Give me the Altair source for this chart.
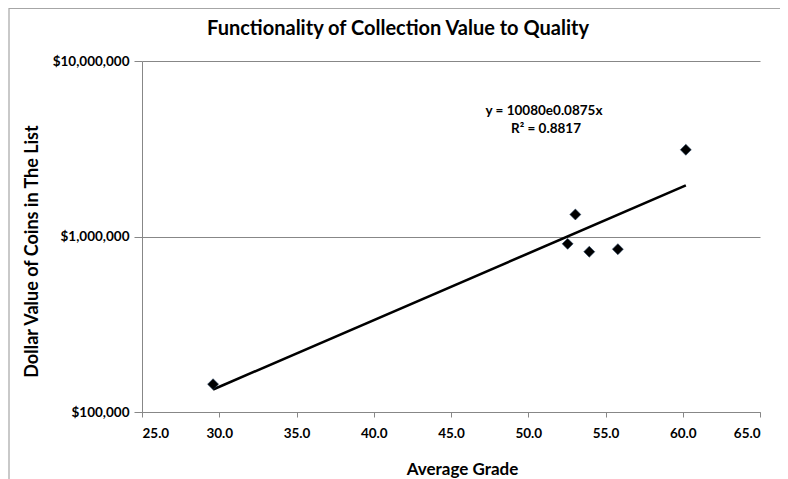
import altair as alt
import pandas as pd
import math

# Data
grades = [29.6, 52.55, 53.05, 53.95, 55.8, 60.2]
values = [144000, 908000, 1335000, 819000, 847000, 3120000]

# Exponential trendline coefficients as printed on the chart
trend_a = 10080
trend_b = 0.0875
trend_labels = ["y = 10080e0.0875x", "R\u00b2 = 0.8817"]

x_ticks = [25, 30, 35, 40, 45, 50, 55, 60, 65]
y_ticks = [100000, 1000000, 10000000]

FONT = "Lato"
GRAY = "#878787"

pts = pd.DataFrame({"grade": grades, "value": values})
trend = pd.DataFrame({"grade": [min(grades), max(grades)]})
trend["value"] = [trend_a * math.exp(trend_b * g) for g in trend["grade"]]

xscale = alt.Scale(domain=[25, 65], nice=False, zero=False)
yscale = alt.Scale(type="log", domain=[100000, 10000000], nice=False)

xenc = alt.X("grade:Q", scale=xscale,
             axis=alt.Axis(values=x_ticks, format=".1f", title="Average Grade",
                           grid=False, tickSize=5, labelPadding=9,
                           titleX=320, titleY=62, titleBaseline="alphabetic",
                           titleFontSize=17))
yenc = alt.Y("value:Q", scale=yscale,
             axis=alt.Axis(values=y_ticks, format="$,.0f",
                           title="Dollar Value of Coins in The List",
                           grid=True, tickSize=8, labelPadding=5,
                           titleX=-110, titleY=190, titleAngle=270,
                           titleAlign="center", titleBaseline="middle",
                           titleFontSize=18))

border = alt.Chart(pd.DataFrame({"d": [0]})).mark_rect(
    filled=False, stroke="#a6a6a6", strokeWidth=1.2
).encode(x=alt.value(-133), x2=alt.value(644), y=alt.value(-52.5), y2=alt.value(430))

line = alt.Chart(trend).mark_line(color="black", strokeWidth=2.6).encode(
    x=xenc, y=yenc)

points = alt.Chart(pts).mark_point(
    shape="diamond", filled=True, size=120, color="black", opacity=1,
    stroke="#1f3a5a", strokeWidth=0.6
).encode(x="grade:Q", y="value:Q")

lab_df = pd.DataFrame({"t": trend_labels, "row": [0, 1]})
labels1 = alt.Chart(lab_df.iloc[[0]]).mark_text(
    font=FONT, fontSize=13.5, fontWeight="bold", align="center", baseline="alphabetic"
).encode(text="t:N", x=alt.value(402), y=alt.value(54))
labels2 = alt.Chart(lab_df.iloc[[1]]).mark_text(
    font=FONT, fontSize=13.5, fontWeight="bold", align="center", baseline="alphabetic"
).encode(text="t:N", x=alt.value(404), y=alt.value(72))

chart = alt.layer(border, line, points, labels1, labels2).properties(
    width=618, height=351,
    title=alt.TitleParams("Functionality of Collection Value to Quality",
                          font=FONT, fontSize=20, fontWeight="bold",
                          anchor="middle", frame="group", dx=-53, dy=47,
                          offset=0, baseline="alphabetic", color="black"),
    autosize=alt.AutoSizeParams(type="none"),
    padding={"left": 134, "top": 53, "right": 20, "bottom": 67},
    background="white",
).configure_view(stroke=None).configure_axis(
    domainColor=GRAY, tickColor=GRAY, gridColor=GRAY, gridOpacity=1,
    labelFont=FONT, labelFontSize=13.5, labelFontWeight="bold", labelColor="black",
    titleFont=FONT, titleFontWeight="bold", titleColor="black",
)

chart.save("out.html", embed_options={"renderer": "svg", "actions": False})
